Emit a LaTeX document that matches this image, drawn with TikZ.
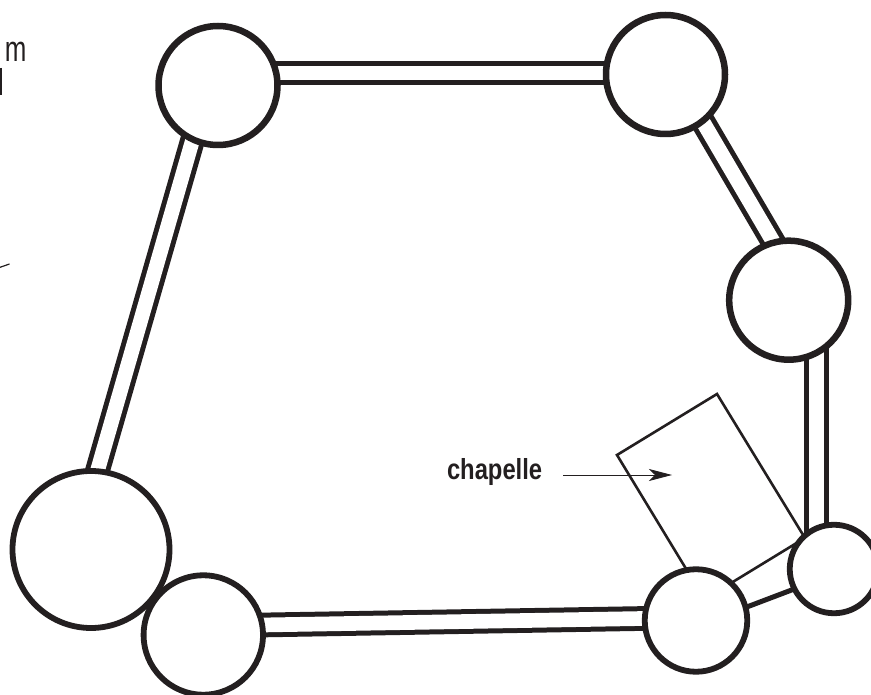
\documentclass[tikz,border=0pt]{standalone}
\usepackage{fontspec}
\setmainfont{Liberation Sans}
\newfontfamily\chapfont[FakeStretch=0.82]{Liberation Sans}
\newfontfamily\mfont[FakeStretch=0.72]{Liberation Sans}
\usetikzlibrary{arrows.meta,backgrounds}
\definecolor{ink}{HTML}{231F20}
\tikzset{
  tower/.style={circle,draw=ink,fill=white,line width=6.5pt,inner sep=0pt,outer sep=0pt,minimum size=#1},
  smalltower/.style={tower=#1,line width=5.8pt},
  wall/.style={draw=ink,line width=5pt,double=white,double distance=14.7pt},
  thinwall/.style={draw=ink,line width=2.6pt,line join=miter},
  thickwall/.style={draw=ink,line width=5pt},
  pointer/.style={draw=ink,line width=0.9pt,-{Stealth[length=23pt,width=12pt,inset=6pt]}},
  mark line/.style={draw=ink,line width=1.2pt}
}
\begin{document}
\begin{tikzpicture}[x=1pt,y=-1pt]
\clip (0,0) rectangle (871,695);
\node[tower=119pt] (A) at (218,85.5) {};
\node[tower=119pt] (B) at (665.5,74.5) {};
\node[tower=119pt] (C) at (788.7,300.2) {};
\node[smalltower=157pt] (D) at (91,549.5) {};
\node[smalltower=119.4pt] (E) at (203.3,635) {};
\node[smalltower=102.5pt] (F) at (696,620.5) {};
\node[smalltower=88.5pt] (G) at (834,569) {};
\coordinate (r1) at (617,455);
\coordinate (r2) at (717,394);
\coordinate (tip) at (672,475);
\node[inner sep=0pt,outer sep=0pt,anchor=base west,text=ink,font=\chapfont\bfseries\fontsize{29}{31}\selectfont] (lab) at (447,479) {chapelle};
\node[inner sep=0pt,outer sep=0pt,anchor=base west,text=ink,font=\mfont\fontsize{36}{38}\selectfont] (mm) at (5,62) {m};
\coordinate (b1) at (0.5,68);
\coordinate (b2) at (0.5,95);
\coordinate (t1) at (0,267.3);
\coordinate (t2) at (9.5,264);
\begin{pgfonlayer}{background}
\draw[wall] ([yshift=12.5pt]A.center) -- ([yshift=1.5pt]B.center);
\draw[wall] ([xshift=9.7pt]B.center) -- ([xshift=18.7pt]C.center);
\draw[wall] ([xshift=27.6pt]C.center) -- ([xshift=-17.7pt]G.center);
\draw[wall] ([xshift=-9.7pt]A.center) -- ([xshift=-16.2pt]D.center);
\draw[wall] ([yshift=9pt]E.center) -- ([yshift=2.9pt]F.center);
\draw[thickwall] ([shift={(6pt,-3.5pt)}]F.center) -- ([shift={(-20pt,-12.5pt)}]G.center);
\draw[thinwall] ([shift={(4pt,18.5pt)}]F.center) -- ([shift={(-21pt,36pt)}]G.center);
\draw[thinwall] ([shift={(2.6pt,31pt)}]F.center) -- (r1) -- (r2) -- ([shift={(-15pt,8pt)}]G.center);
\end{pgfonlayer}
\draw[pointer] ([xshift=21pt]lab.east |- tip) -- (tip);
\draw[mark line,line width=2pt] (b1) -- (b2);
\draw[mark line] (t1) -- (t2);
\end{tikzpicture}
\end{document}
